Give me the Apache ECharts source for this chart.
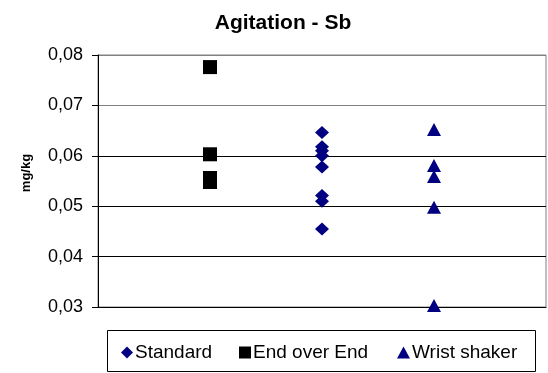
<!DOCTYPE html>
<html>
<head>
<meta charset="utf-8">
<script src="https://cdn.jsdelivr.net/npm/echarts@6/dist/echarts.min.js"></script>
<style>
html,body{margin:0;padding:0;background:#fff;}
#c{width:548px;height:373px;}
</style>
</head>
<body>
<div id="c"></div>
<script>
var titleText = 'Agitation - Sb';
var yAxisName = 'mg/kg';
var seriesNames = ['Standard', 'End over End', 'Wrist shaker'];
var groupX = { 'End over End': 1, 'Standard': 2, 'Wrist shaker': 3 };
var standardValues = [0.0646, 0.0618, 0.0610, 0.0600, 0.0578, 0.0521, 0.0510, 0.0455];
var endOverEndValues = [0.0776, 0.0603, 0.0556, 0.0548];
var wristShakerValues = [0.0652, 0.0581, 0.0559, 0.0498, 0.0303];
var yTicks = [0.03, 0.04, 0.05, 0.06, 0.07, 0.08];

function pts(name, vals) {
  return vals.map(function (v) { return [groupX[name], v]; });
}

var font = 'Liberation Sans, Arial, sans-serif';
var legendText = { fontFamily: font, fontSize: 19, color: '#000', padding: [0, 0, 0, -3] };
var chart = echarts.init(document.getElementById('c'));
chart.setOption({
  animation: false,
  backgroundColor: '#fff',
  textStyle: { fontFamily: font },
  title: {
    text: titleText, left: 278, textAlign: 'center', top: 8,
    textStyle: { fontFamily: font, fontSize: 21, fontWeight: 'bold', color: '#000' }
  },
  grid: { left: 98, right: 2, top: 55, bottom: 66, show: true, borderColor: '#808080', borderWidth: 1 },
  xAxis: {
    type: 'value', min: 0, max: 4,
    axisLine: { show: true, lineStyle: { color: '#000', width: 1 } },
    axisTick: { show: false }, axisLabel: { show: false }, splitLine: { show: false }
  },
  yAxis: {
    type: 'value', min: yTicks[0], max: yTicks[yTicks.length - 1], interval: 0.01,
    axisLine: { show: true, lineStyle: { color: '#000', width: 1 } },
    axisTick: { show: true, length: 6, lineStyle: { color: '#000' } },
    axisLabel: {
      fontFamily: font, fontSize: 18, color: '#000', margin: 15,
      formatter: function (v) { return v.toFixed(2).replace('.', ','); }
    },
    splitLine: { show: true, lineStyle: { color: ['#000', '#000', '#000', '#000', '#808080', '#808080'], width: 1 } }
  },
  legend: [
    { data: [seriesNames[0]], left: 121, top: 343, itemWidth: 12, itemHeight: 12, itemGap: 0, padding: 0, textStyle: legendText },
    { data: [seriesNames[1]], left: 239, top: 343, itemWidth: 12, itemHeight: 12, itemGap: 0, padding: 0, textStyle: legendText },
    { data: [seriesNames[2]], left: 397, top: 343, itemWidth: 13, itemHeight: 12, itemGap: 0, padding: 0, textStyle: legendText }
  ],
  graphic: [
    { type: 'rect', shape: { x: 107.5, y: 330.5, width: 428, height: 41 },
      style: { fill: 'none', stroke: '#000', lineWidth: 1 }, z: -1 },
    { type: 'text', x: 26, y: 173, rotation: Math.PI / 2,
      style: { text: yAxisName, font: 'bold 13px ' + font, fill: '#000', textAlign: 'center', textVerticalAlign: 'middle' } }
  ],
  series: [
    { name: seriesNames[0], type: 'scatter', symbol: 'diamond', symbolSize: [14, 13],
      itemStyle: { color: '#000080', opacity: 1 }, data: pts('Standard', standardValues) },
    { name: seriesNames[1], type: 'scatter', symbol: 'rect', symbolSize: 14,
      itemStyle: { color: '#000000', opacity: 1 }, data: pts('End over End', endOverEndValues) },
    { name: seriesNames[2], type: 'scatter', symbol: 'triangle', symbolSize: [14, 13],
      itemStyle: { color: '#000080', opacity: 1 }, data: pts('Wrist shaker', wristShakerValues) }
  ]
});
</script>
</body>
</html>
